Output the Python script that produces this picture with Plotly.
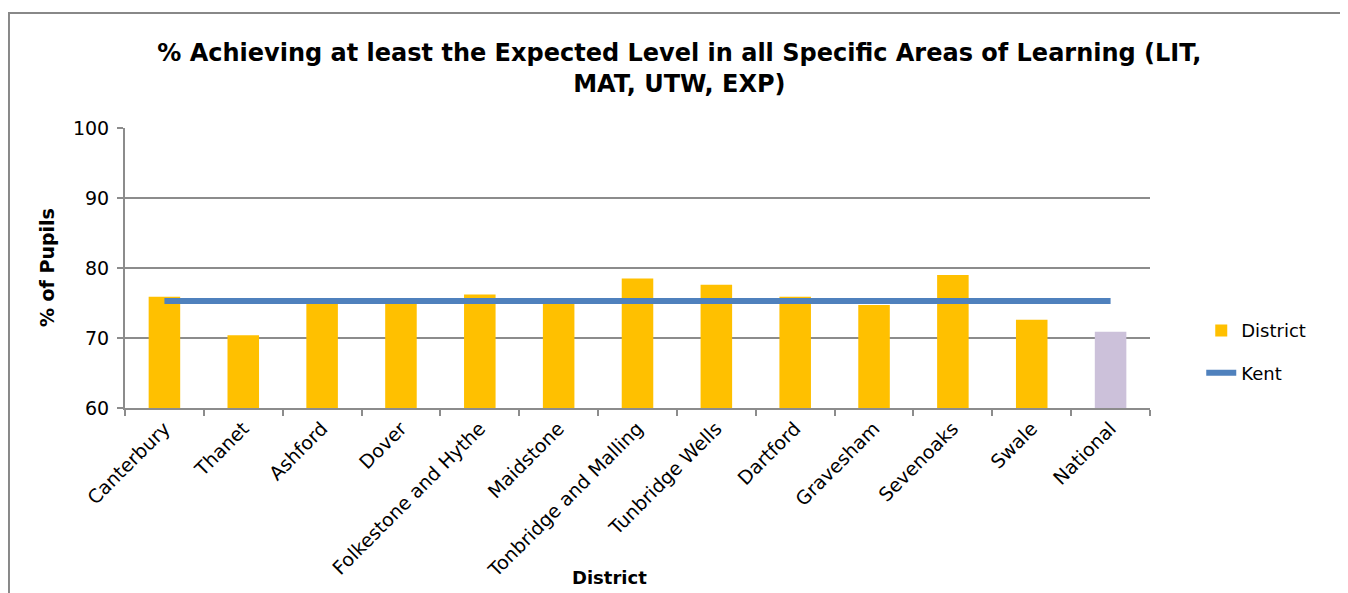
import plotly.graph_objects as go

districts = ["Canterbury", "Thanet", "Ashford", "Dover", "Folkestone and Hythe",
             "Maidstone", "Tonbridge and Malling", "Tunbridge Wells", "Dartford",
             "Gravesham", "Sevenoaks", "Swale", "National"]
district_pct = [75.9, 70.4, 75.0, 75.0, 76.2, 75.0, 78.5, 77.6, 75.9, 74.7, 79.0, 72.6, 70.9]
kent_pct = [75.3, 75.3, 75.3, 75.3, 75.3, 75.3, 75.3, 75.3, 75.3, 75.3, 75.3, 75.3, 75.3]

_FONT = "DejaVu Sans"
_GRID = "#8C8C8C"
bar_colors = ["#FFC000"] * 12 + ["#CCC1DA"]

fig = go.Figure()
fig.add_trace(go.Bar(
    x=districts, y=district_pct, name="District",
    marker=dict(color=bar_colors, line=dict(width=0)),
    legendgroup="a",
))
fig.add_trace(go.Scatter(
    x=districts, y=kent_pct, name="Kent", mode="lines",
    line=dict(color="#4F81BD", width=6),
    legendgroup="b",
))

fig.update_layout(
    width=1340, height=585,
    paper_bgcolor="white", plot_bgcolor="white",
    font=dict(family=_FONT, color="black", size=17),
    margin=dict(l=117, r=198, t=120, b=185),
    bargap=0.6,
    title=dict(
        text="<b>% Achieving at least the Expected Level in all Specific Areas of Learning (LIT,<br>MAT, UTW, EXP)</b>",
        x=0.501, xanchor="center", y=0.909, yanchor="top",
        font=dict(size=24, family=_FONT),
    ),
    xaxis=dict(
        tickangle=-45, tickson="boundaries", ticks="outside", ticklen=6,
        tickcolor=_GRID, tickwidth=2, showline=True, linecolor=_GRID, linewidth=2,
        showgrid=False, tickfont=dict(size=19),
    ),
    yaxis=dict(
        range=[60, 100], dtick=10, ticks="outside", ticklen=6, tickcolor=_GRID,
        tickwidth=2, showline=True, linecolor=_GRID, linewidth=2,
        gridcolor=_GRID, gridwidth=2, zeroline=False, tickfont=dict(size=19),
        ticklabelstandoff=4,
    ),
    legend=dict(x=1.05, y=0.342, xanchor="left", yanchor="top",
                font=dict(size=18), tracegroupgap=16, traceorder="grouped"),
    showlegend=True,
)

fig.add_annotation(text="<b>District</b>", xref="paper", yref="paper",
                   x=0.473, y=-0.604, xanchor="center", yanchor="middle",
                   showarrow=False, font=dict(size=18))
fig.add_annotation(text="<b>% of Pupils</b>", xref="paper", yref="paper",
                   x=-0.076, y=0.5, xanchor="center", yanchor="middle",
                   textangle=-90, showarrow=False, font=dict(size=19))

# chart outline (only top and left edges fall inside the image)
fig.add_shape(type="rect", xref="paper", yref="paper",
              x0=-0.1132, x1=1.22, y0=-0.72, y1=1.4107,
              line=dict(color="#888888", width=2), layer="below")

fig.write_html("out.html")
